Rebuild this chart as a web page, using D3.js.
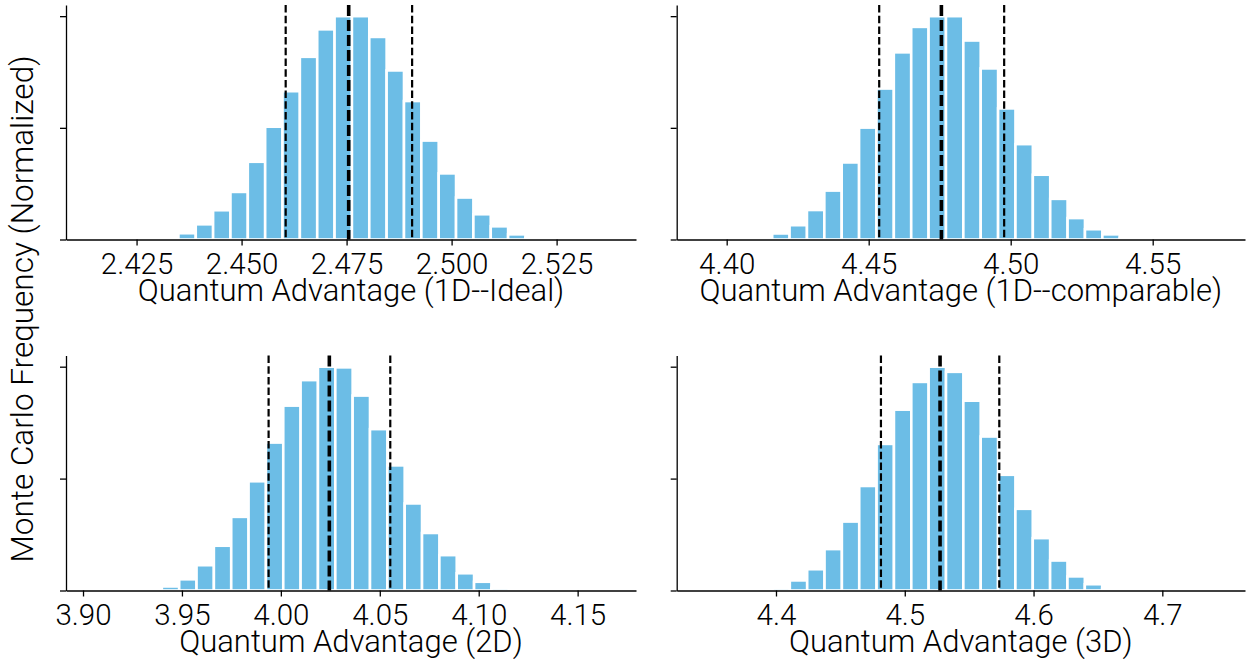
<!DOCTYPE html>
<html>
<head>
<meta charset="utf-8">
<script src="https://cdn.jsdelivr.net/npm/d3@7"></script>
<style>
    body { margin: 0; background: #fff; }
    svg text { font-family: Roboto, "Liberation Sans", sans-serif; font-weight: 300; fill: #000; }
</style>
</head>
<body>
<svg id="chart" width="1253" height="659"></svg>
<script>
// Normalized histogram heights (tallest bin = 1)
var ideal1DHeights = [0.009, 0.028, 0.068, 0.131, 0.213, 0.348, 0.505, 0.664, 0.818, 0.941, 1.0, 1.0,
    0.907, 0.757, 0.620, 0.443, 0.296, 0.188, 0.113, 0.059, 0.023, 0.008];
var comp1DHeights = [0.010, 0.027, 0.064, 0.132, 0.219, 0.345, 0.501, 0.676, 0.838, 0.952, 1.0, 1.0,
    0.891, 0.766, 0.587, 0.427, 0.290, 0.182, 0.096, 0.046, 0.023, 0.008];
var twoDHeights = [0.005, 0.018, 0.050, 0.113, 0.200, 0.329, 0.488, 0.661, 0.826, 0.940, 1.0, 0.997,
    0.871, 0.721, 0.559, 0.389, 0.257, 0.158, 0.077, 0.039, 0.012];
var threeDHeights = [0.012, 0.045, 0.095, 0.185, 0.308, 0.467, 0.655, 0.808, 0.932, 1.0, 0.977, 0.848,
    0.688, 0.517, 0.365, 0.234, 0.134, 0.063, 0.028, 0.008];

// first bin edge and bin width of each histogram
var ideal1DBins = [2.43083, 0.004131];
var comp1DBins = [4.40991, 0.006118];
var twoDBins = [3.93108, 0.008767];
var threeDBins = [4.39728, 0.013474];

// dashed markers: [lower, mean, upper]
var ideal1DMarks = [2.4605, 2.4755, 2.4906];
var comp1DMarks = [4.4537, 4.4756, 4.4977];
var twoDMarks = [3.9938, 4.0245, 4.0553];
var threeDMarks = [4.4815, 4.5274, 4.5734];

// x domains and tick labels
var ideal1DDomain = [2.4082, 2.5439];
var comp1DDomain = [4.3824, 4.5825];
var twoDDomain = [3.8914, 4.1795];
var threeDDomain = [4.3229, 4.7642];

var ideal1DTicks = [2.425, 2.450, 2.475, 2.500, 2.525];
var comp1DTicks = [4.40, 4.45, 4.50, 4.55];
var twoDTicks = [3.90, 3.95, 4.00, 4.05, 4.10, 4.15];
var threeDTicks = [4.4, 4.5, 4.6, 4.7];

var yTicks = [0, 0.5, 1];

var panels = [
    { heights: ideal1DHeights, bins: ideal1DBins, marks: ideal1DMarks, domain: ideal1DDomain,
      ticks: ideal1DTicks, fmt: ".3f", label: "Quantum Advantage (1D--Ideal)",
      left: 66, right: 636, top: 5, bottom: 239.5 },
    { heights: comp1DHeights, bins: comp1DBins, marks: comp1DMarks, domain: comp1DDomain,
      ticks: comp1DTicks, fmt: ".2f", label: "Quantum Advantage (1D--comparable)",
      left: 676.7, right: 1245, top: 5, bottom: 239.5 },
    { heights: twoDHeights, bins: twoDBins, marks: twoDMarks, domain: twoDDomain,
      ticks: twoDTicks, fmt: ".2f", label: "Quantum Advantage (2D)",
      left: 66, right: 636, top: 355.5, bottom: 590.5 },
    { heights: threeDHeights, bins: threeDBins, marks: threeDMarks, domain: threeDDomain,
      ticks: threeDTicks, fmt: ".1f", label: "Quantum Advantage (3D)",
      left: 676.7, right: 1245, top: 355.5, bottom: 590.5 }
];

var svg = d3.select("#chart");
var barColor = "#6cbde6";

panels.forEach(function (p) {
    var x = d3.scaleLinear().domain(p.domain).range([p.left, p.right]);
    var y = d3.scaleLinear().domain([0, 1.05]).range([p.bottom, p.top]);
    var g = svg.append("g");

    // bars
    g.selectAll("rect.bar")
        .data(p.heights)
        .enter()
        .append("rect")
        .attr("class", "bar")
        .attr("x", function (d, i) { return x(p.bins[0] + i * p.bins[1]); })
        .attr("width", function (d, i) {
            return x(p.bins[0] + (i + 1) * p.bins[1]) - x(p.bins[0] + i * p.bins[1]);
        })
        .attr("y", function (d) { return y(d); })
        .attr("height", function (d) { return y(0) - y(d); })
        .attr("fill", barColor)
        .attr("stroke", "#fff")
        .attr("stroke-width", 2.6);

    // dashed markers, the middle one thicker
    g.selectAll("line.mark")
        .data(p.marks)
        .enter()
        .append("line")
        .attr("class", "mark")
        .attr("x1", function (d) { return x(d); })
        .attr("x2", function (d) { return x(d); })
        .attr("y1", y(1.05))
        .attr("y2", y(0))
        .attr("stroke", "#000")
        .attr("stroke-width", function (d, i) { return i === 1 ? 3.6 : 2.2; })
        .attr("stroke-dasharray", function (d, i) { return i === 1 ? "11,4" : "7.5,3.2"; });

    // axes
    var xAxis = d3.axisBottom(x)
        .tickValues(p.ticks)
        .tickFormat(d3.format(p.fmt))
        .tickSize(6)
        .tickSizeOuter(0)
        .tickPadding(8);
    var gx = g.append("g")
        .attr("transform", "translate(0," + p.bottom + ")")
        .call(xAxis);
    gx.select(".domain").attr("stroke-width", 1.3);
    gx.selectAll(".tick line").attr("stroke-width", 1.3);
    gx.selectAll(".tick text")
        .style("font-size", "29.5px");

    var yAxis = d3.axisLeft(y)
        .tickValues(yTicks)
        .tickFormat("")
        .tickSize(6)
        .tickSizeOuter(0);
    var gy = g.append("g")
        .attr("transform", "translate(" + p.left + ",0)")
        .call(yAxis);
    gy.select(".domain").attr("stroke-width", 1.3);
    gy.selectAll(".tick line").attr("stroke-width", 1.3);

    g.append("text")
        .attr("x", (p.left + p.right) / 2)
        .attr("y", p.bottom + 61.5)
        .attr("text-anchor", "middle")
        .style("font-size", "31px")
        .text(p.label);
});

svg.append("text")
    .attr("transform", "translate(33,309) rotate(-90)")
    .attr("text-anchor", "middle")
    .style("font-size", "31.5px")
    .text("Monte Carlo Frequency (Normalized)");
</script>
</body>
</html>
